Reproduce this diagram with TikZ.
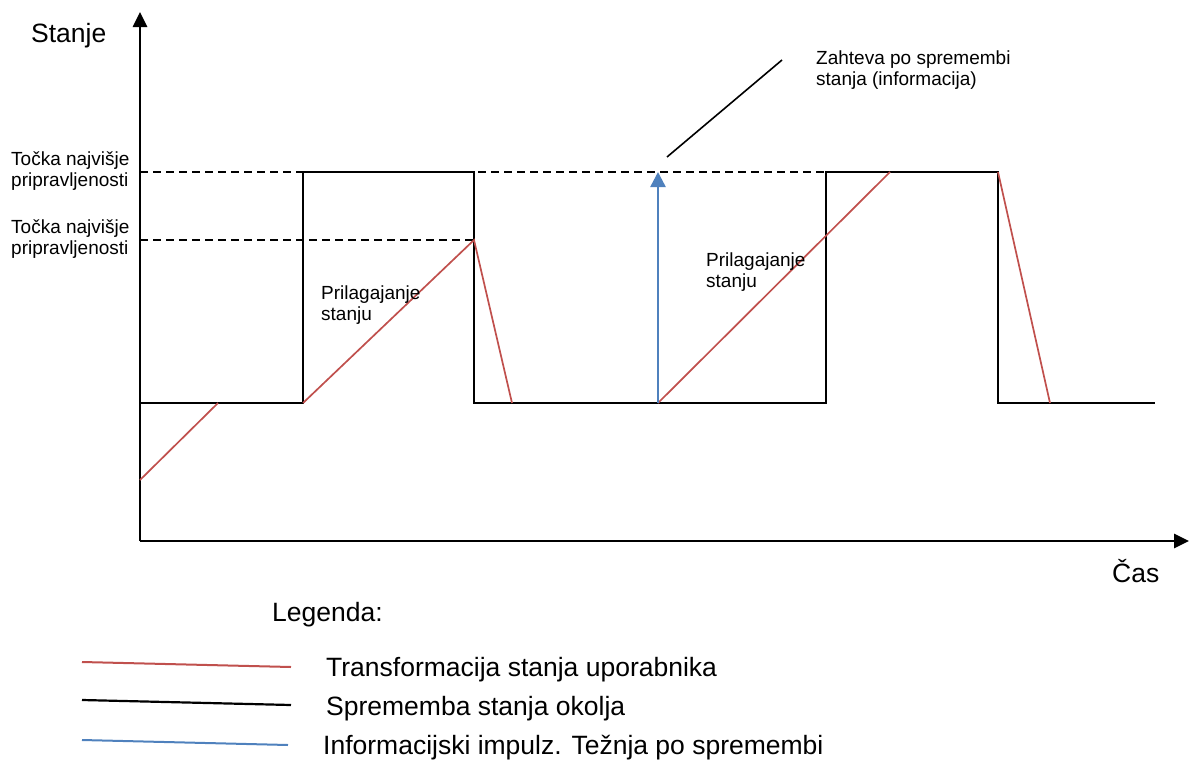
\documentclass[tikz,border=0pt]{standalone}
\usepackage{fontspec}
\setmainfont{Liberation Sans}
\usetikzlibrary{arrows.meta}

\definecolor{transred}{RGB}{192,80,77}
\definecolor{impblue}{RGB}{79,129,189}

\tikzstyle{axisline}=[line width=2.6pt, -{Triangle[length=15pt,width=14pt]}]
\tikzstyle{env}=[line width=1.9pt, black]
\tikzstyle{user}=[line width=1.7pt, transred]
\tikzstyle{impulse}=[line width=2.5pt, impblue, -{Triangle[length=15pt,width=15pt]}]
\tikzstyle{markline}=[line width=1.4pt, dash pattern=on 8pt off 5pt]
\tikzstyle{txt}=[inner sep=0pt, anchor=base west, align=left]
\tikzstyle{big}=[txt, font=\fontsize{26.5}{30}\selectfont]
\tikzstyle{small}=[txt, font=\fontsize{19}{20.5}\selectfont]

\begin{document}
\begin{tikzpicture}[x=1pt, y=-1pt]
\useasboundingbox (0,0) rectangle (1189,763);

% osi
\coordinate (O) at (140,541);
\coordinate (ytop) at (140,12);
\coordinate (xend) at (1189,541);
\draw[axisline] (O) -- (ytop);
\draw[axisline] (O) -- (xend);
\node[big](stanje) at (31,42) {Stanje};
\node[big](cas) at (1112,582) {Čas};

% tocke
\coordinate (a0) at (140,403);
\coordinate (a1) at (303,403);
\coordinate (a2) at (303,172);
\coordinate (a3) at (474,172);
\coordinate (a4) at (474,403);
\coordinate (a5) at (826,403);
\coordinate (a6) at (826,172);
\coordinate (a7) at (998,172);
\coordinate (a8) at (998,403);
\coordinate (a9) at (1155,403);
\coordinate (h1) at (140,172);
\coordinate (h2) at (140,240);
\coordinate (p2) at (474,240);
\coordinate (p5) at (890,172);
\coordinate (r0) at (140,480);
\coordinate (r1) at (218,403);
\coordinate (r3) at (512,403);
\coordinate (r6) at (1050,403);
\coordinate (i0) at (658,403);
\coordinate (i1) at (658,172);
\coordinate (z0) at (667,157);
\coordinate (z1) at (782,60);

% pripravljenost
\draw[markline] (h1) -- (p5);
\draw[markline] (h2) -- (p2);
\node[small](tocka1) at (11,186) {Točka najvišje\\pripravljenosti};
\node[small](tocka2) at (11,254) {Točka najvišje\\pripravljenosti};

% okolje
\draw[env] (a0) -- (a1) -- (a2) -- (a3) -- (a4) -- (a5) -- (a6) -- (a7) -- (a8) -- (a9);

% uporabnik
\draw[user] (r0) -- (r1);
\draw[user] (a1) -- (p2) -- (r3);
\draw[user] (i0) -- (p5);
\draw[user] (a7) -- (r6);
\node[small](prilag1) at (321,320) {Prilagajanje\\stanju};
\node[small](prilag2) at (706,287) {Prilagajanje\\stanju};

% impulz
\draw[impulse] (i0) -- (i1);
\draw[line width=1.6pt] (z0) -- (z1);
\node[small](zahteva) at (816,85) {Zahteva po spremembi\\stanja (informacija)};

% legenda
\node[big](legenda) at (272,621) {Legenda:};
\coordinate (l1a) at (82,662);
\coordinate (l1b) at (291,667);
\coordinate (l2a) at (82,700);
\coordinate (l2b) at (291,705);
\coordinate (l3a) at (82,740);
\coordinate (l3b) at (288,745);
\draw[user, line width=2pt] (l1a) -- (l1b);
\draw[env, line width=2.2pt] (l2a) -- (l2b);
\draw[impblue, line width=2pt] (l3a) -- (l3b);
\node[big](leg1) at (326,676) {Transformacija stanja uporabnika};
\node[big](leg2) at (326,715) {Sprememba stanja okolja};
\node[big](leg3) at (323,754) {Informacijski impulz. Težnja po spremembi};
\end{tikzpicture}
\end{document}
